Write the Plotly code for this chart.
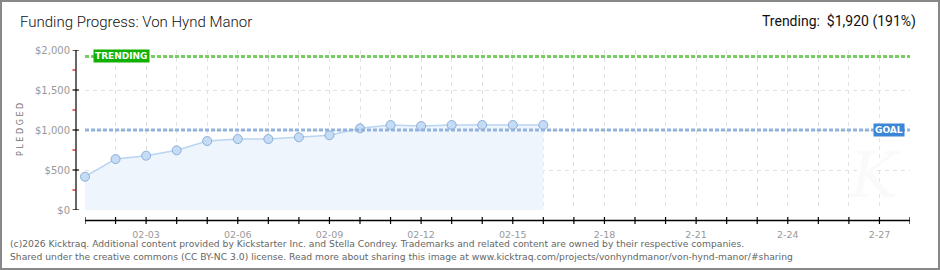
import plotly.graph_objects as go

# ---------------- data ----------------
dates = ["2026-02-%02d" % d for d in range(1, 17)]
pledged = [416, 637, 679, 746, 862, 887, 887, 909, 934, 1021, 1062, 1050, 1062, 1062, 1062, 1062]

axis_days = ["2026-02-%02d" % d for d in range(1, 29)]
axis_labels = ["", "", "02-03", "", "", "02-06", "", "", "02-09", "", "", "02-12", "", "",
               "02-15", "", "", "2-18", "", "", "2-21", "", "", "2-24", "", "", "2-27", ""]

y_ticks = [0, 500, 1000, 1500, 2000]
y_tick_labels = ["$0", "$500", "$1,000", "$1,500", "$2,000"]
y_minor = [250, 750, 1250, 1750]

goal = 1000
trending = 1920
title = "Funding Progress: Von Hynd Manor"
trend_text = "Trending:  $1,920 (191%)"
footer1 = ("(c)2026 Kicktraq. Additional content provided by Kickstarter Inc. and Stella Condrey. "
           "Trademarks and related content are owned by their respective companies.")
footer2 = ("Shared under the creative commons (CC BY-NC 3.0) license. Read more about sharing this image "
           "at www.kicktraq.com/projects/vonhyndmanor/von-hynd-manor/#sharing")

# ---------------- layout geometry ----------------
W, H = 940, 270
L, R, T, B = 85, 30, 50, 60
PW, PH = W - L - R, H - T - B


def px_x(px):
    return (px - L) / PW


def px_y(py):
    return (H - B - py) / PH


fig = go.Figure()
fig.add_trace(go.Scatter(
    x=dates, y=pledged, mode="lines+markers", cliponaxis=False,
    line=dict(color="#b9d5f2", width=1.5),
    marker=dict(size=9, color="#c4dcf6", line=dict(color="#8faed6", width=1)),
    fill="tozeroy", fillcolor="#eef5fd", hoverinfo="skip", showlegend=False,
))

shapes = []
# goal & trending lines
shapes.append(dict(type="line", xref="paper", yref="y", x0=0, x1=1, y0=trending, y1=trending,
                   line=dict(color="#77cc66", width=3, dash="4px,2px"), layer="above"))
shapes.append(dict(type="line", xref="paper", yref="y", x0=0, x1=1, y0=goal, y1=goal,
                   line=dict(color="#93b3dc", width=3, dash="4px,2px"), layer="above"))
# y axis line and ticks
yax_x = px_x(76)
shapes.append(dict(type="line", xref="paper", yref="y", x0=yax_x, x1=yax_x, y0=0, y1=2000,
                   line=dict(color="#000", width=1.2)))
for v in y_ticks:
    shapes.append(dict(type="line", xref="paper", yref="y", x0=px_x(72.5), x1=px_x(79), y0=v, y1=v,
                       line=dict(color="#000", width=1.2)))
for v in y_minor:
    shapes.append(dict(type="line", xref="paper", yref="y", x0=px_x(72.5), x1=yax_x, y0=v, y1=v,
                       line=dict(color="#e00000", width=1.2)))
# x axis line and ticks
xay = px_y(220.5)
shapes.append(dict(type="line", xref="x", yref="paper", x0=axis_days[0], x1=axis_days[-1], y0=xay, y1=xay,
                   line=dict(color="#000", width=1.5)))
for d in axis_days:
    shapes.append(dict(type="line", xref="x", yref="paper", x0=d, x1=d, y0=px_y(217), y1=px_y(224),
                       line=dict(color="#000", width=1.2)))
# outer frame
shapes.append(dict(type="rect", xref="paper", yref="paper", x0=px_x(1), x1=px_x(939), y0=px_y(1), y1=px_y(269),
                   line=dict(color="#888888", width=2)))

annotations = [
    dict(xref="paper", yref="paper", x=px_x(918), y=px_y(22), xanchor="right", yanchor="middle",
         text=trend_text, showarrow=False, font=dict(family="Roboto", size=14, color="#111")),
    dict(xref="paper", yref="y", x=px_x(93), y=trending, xanchor="left", yanchor="middle",
         text="<b>TRENDING</b>", showarrow=False, bgcolor="#12b000", borderpad=1,
         font=dict(family="DejaVu Sans", size=9, color="#fff")),
    dict(xref="paper", yref="y", x=px_x(905), y=goal, xanchor="right", yanchor="middle",
         text="<b>GOAL</b>", showarrow=False, bgcolor="#3b86d6", borderpad=1,
         font=dict(family="DejaVu Sans", size=9, color="#fff")),
    dict(xref="paper", yref="paper", x=px_x(20), y=0.5, xanchor="center", yanchor="middle", textangle=-90,
         text="P L E D G E D", showarrow=False, font=dict(family="DejaVu Sans", size=8, color="#777")),
    dict(xref="paper", yref="paper", x=px_x(875), y=px_y(175), xanchor="center", yanchor="middle",
         text="K", showarrow=False, font=dict(family="DejaVu Serif", size=64, color="#fafafa", style="italic")),
    dict(xref="paper", yref="paper", x=px_x(8), y=px_y(243), xanchor="left", yanchor="middle",
         text=footer1, showarrow=False, font=dict(family="DejaVu Sans", size=9.2, color="#666")),
    dict(xref="paper", yref="paper", x=px_x(8), y=px_y(256), xanchor="left", yanchor="middle",
         text=footer2, showarrow=False, font=dict(family="DejaVu Sans", size=9.2, color="#666")),
]

fig.update_layout(
    width=W, height=H, margin=dict(l=L, r=R, t=T, b=B, pad=0),
    paper_bgcolor="#fff", plot_bgcolor="#fff",
    title=dict(text=title, x=20 / W, xanchor="left", y=1 - 22 / H, yanchor="middle",
               xref="container", yref="container",
               font=dict(family="Roboto", size=15, color="#111", weight=300)),
    xaxis=dict(type="date", range=[axis_days[0], axis_days[-1]], tickvals=axis_days, ticktext=axis_labels,
               showgrid=True, gridcolor="#e2e2e2", griddash="4px,4px", gridwidth=1, zeroline=False,
               showline=False, ticks="", ticklabelstandoff=17,
               tickfont=dict(family="DejaVu Sans", size=9.5, color="#999")),
    yaxis=dict(range=[0, 2000], tickvals=y_ticks, ticktext=y_tick_labels,
               showgrid=True, gridcolor="#e2e2e2", griddash="4px,4px", gridwidth=1, zeroline=False,
               showline=False, ticks="", ticklabelstandoff=14,
               tickfont=dict(family="DejaVu Sans", size=10, color="#999")),
    shapes=shapes, annotations=annotations, showlegend=False,
)

fig.write_html("out.html", config={"displayModeBar": False})
